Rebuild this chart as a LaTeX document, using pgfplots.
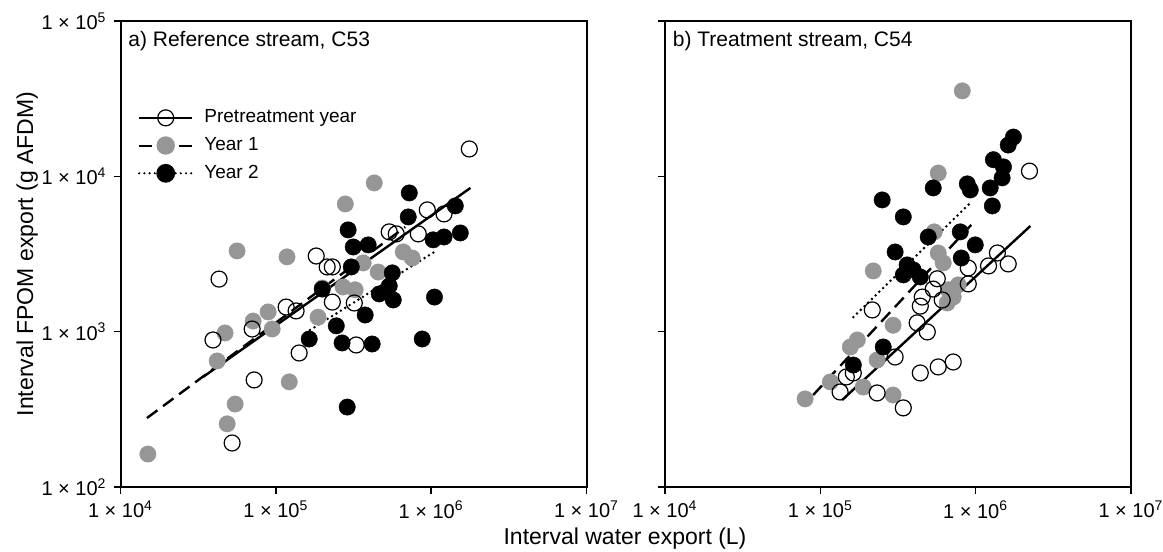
\documentclass[border=0pt]{standalone}
\usepackage{fontspec}
\setmainfont{Liberation Sans}
\usepackage{pgfplots}
\usepackage{pgfplotstable}
\pgfplotsset{compat=1.18}
\definecolor{ptgray}{RGB}{150,150,150}

% ---- Panel a: reference stream C53 ----
\pgfplotstableread{
x y
1760000 15000
43100 2180
39400 884
72500 489
52300 192
70400 1040
116500 1440
135000 1360
141300 729
182000 3070
214000 2610
231000 2610
231000 1550
320000 1530
329000 821
537000 4390
596000 4260
944000 6080
1210000 5730
826000 4260
}\lpre
\pgfplotstableread{
x y
15000 163
48600 255
54700 342
41900 648
47100 981
71400 1170
89200 1340
94700 1040
122000 475
187000 1240
56300 3310
118000 3030
280000 6640
430000 9070
271000 1940
324000 1860
365000 2770
456000 2420
661000 3260
755000 2980
199000 1910
}\lyone
\pgfplotstableread{
x y
723000 7820
712000 5480
1430000 6450
292000 4520
315000 3510
393000 3620
1030000 3900
1210000 4070
1540000 4320
306000 2610
199000 1880
562000 2390
537000 1970
463000 1750
570000 1600
376000 1280
245000 1090
164000 897
267000 846
417000 833
288000 327
876000 897
1050000 1670
}\lytwo

% ---- Panel b: treatment stream C54 ----
\pgfplotstableread{
x y
2220000 10800
1380000 3210
1210000 2650
1620000 2730
896000 2570
896000 2030
566000 2190
533000 1880
609000 1600
453000 1670
440000 1460
420000 1140
488000 996
216000 1380
303000 687
440000 542
574000 593
717000 638
232000 403
342000 323
134000 409
147000 511
163000 542
}\rpre
\pgfplotstableread{
x y
820000 35500
574000 10500
219000 2460
541000 4390
574000 3210
618000 2770
666000 1860
656000 1530
772000 2000
717000 1670
294000 1100
156000 797
173000 884
232000 657
116000 475
79800 369
189000 440
294000 391
}\ryone
\pgfplotstableread{
x y
1750000 17900
1620000 15900
1300000 12800
1510000 11500
1480000 9770
1240000 8420
923000 8170
883000 8940
533000 8420
1280000 6450
250000 7050
342000 5480
495000 4070
796000 4390
994000 3620
808000 2980
303000 3260
362000 2690
342000 2320
440000 2250
396000 2500
254000 797
163000 610
}\rytwo

\begin{document}
\begin{tikzpicture}
\useasboundingbox (0,0) rectangle (581.5pt,276pt);

\begin{axis}[xmode=log, ymode=log, scale only axis, width=233pt, height=233pt,
  xmin=1e4, xmax=1e7, ymin=1e2, ymax=1e5,
  xtick={1e4,1e5,1e6,1e7}, ytick={1e2,1e3,1e4,1e5},
  xticklabels={1 × 10\textsuperscript{4},1 × 10\textsuperscript{5},1 × 10\textsuperscript{6},1 × 10\textsuperscript{7}},
  yticklabels={1 × 10\textsuperscript{2},1 × 10\textsuperscript{3},1 × 10\textsuperscript{4},1 × 10\textsuperscript{5}},
  xminorticks=false, yminorticks=false,
  tick align=outside, xtick pos=bottom, ytick pos=left,
  major tick length=3.5pt,
  axis line style={line width=1pt},
  every tick/.style={black, line width=0.8pt},
  tick label style={font=\fontsize{10}{12}\selectfont},
  at={(60.25pt,32.5pt)}, anchor=south west,
  legend cell align=left,
  legend image code/.code={\draw[mark repeat=2,mark phase=2] plot coordinates {(0pt,0pt)(13.25pt,0pt)(26.5pt,0pt)};},
  legend style={draw=none, fill=none, inner sep=0pt, outer sep=0pt,
    at={(0.0376,0.818)}, anchor=north west,
    font=\fontsize{9.5}{11}\selectfont,
    row sep=1.8pt, column sep=3.5pt},
]
\addlegendimage{black, solid, line width=1pt, mark=o, mark size=4pt, mark options={solid, line width=0.6pt}}
\addlegendentry{Pretreatment year}
\addlegendimage{black, line width=1pt, dash pattern=on 6.5pt off 3.5pt, mark=*, mark size=4.1pt, mark options={solid, draw=ptgray, fill=ptgray}}
\addlegendentry{Year 1}
\addlegendimage{black, line width=1.2pt, line cap=round, dash pattern=on 0pt off 2.6pt, mark=*, mark size=4.1pt, mark options={solid, draw=black, fill=black}}
\addlegendentry{Year 2}

\addplot[only marks, mark=*, mark size=4.1pt, mark options={draw=ptgray, fill=ptgray, line width=0.2pt}, forget plot] table {\lyone};
\addplot[only marks, mark=*, mark size=4.1pt, mark options={draw=black, fill=black, line width=0.2pt}, forget plot] table {\lytwo};
\addplot[only marks, mark=o, mark size=4pt, mark options={black, line width=0.6pt}, forget plot] table {\lpre};
\addplot[black, line width=1.2pt, forget plot] coordinates {(34000,511) (1790000,8420)};
\addplot[black, line width=1.2pt, dash pattern=on 6.5pt off 3.5pt, forget plot] coordinates {(14800,278) (681000,4720)};
\addplot[black, line width=1.4pt, line cap=round, dash pattern=on 0pt off 2.6pt, forget plot] coordinates {(166000,1025) (1100000,3360)};
\node[anchor=base west, inner sep=0pt, font=\fontsize{10.5}{12}\selectfont] at (rel axis cs:0.016,0.946) {a) Reference stream, C53};
\end{axis}

\begin{axis}[xmode=log, ymode=log, scale only axis, width=233pt, height=233pt,
  xmin=1e4, xmax=1e7, ymin=1e2, ymax=1e5,
  xtick={1e4,1e5,1e6,1e7}, ytick={1e2,1e3,1e4,1e5},
  xticklabels={1 × 10\textsuperscript{4},1 × 10\textsuperscript{5},1 × 10\textsuperscript{6},1 × 10\textsuperscript{7}},
  yticklabels={},
  xminorticks=false, yminorticks=false,
  tick align=outside, xtick pos=bottom, ytick pos=left,
  major tick length=3.5pt,
  axis line style={line width=1pt},
  every tick/.style={black, line width=0.8pt},
  tick label style={font=\fontsize{10}{12}\selectfont},
  at={(332.5pt,32.5pt)}, anchor=south west,
]
\addplot[only marks, mark=*, mark size=4.1pt, mark options={draw=ptgray, fill=ptgray, line width=0.2pt}, forget plot] table {\ryone};
\addplot[only marks, mark=*, mark size=4.1pt, mark options={draw=black, fill=black, line width=0.2pt}, forget plot] table {\rytwo};
\addplot[only marks, mark=o, mark size=4pt, mark options={black, line width=0.6pt}, forget plot] table {\rpre};
\addplot[black, line width=1.2pt, forget plot] coordinates {(138000,363) (2250000,4790)};
\addplot[black, line width=1.2pt, dash pattern=on 6.5pt off 3.5pt, forget plot] coordinates {(89900,391) (937000,4870)};
\addplot[black, line width=1.4pt, line cap=round, dash pattern=on 0pt off 2.6pt, forget plot] coordinates {(163000,1240) (951000,6940)};
\node[anchor=base west, inner sep=0pt, font=\fontsize{10.5}{12}\selectfont] at (rel axis cs:0.016,0.946) {b) Treatment stream, C54};
\end{axis}

\node[rotate=90, anchor=base, inner sep=0pt, font=\fontsize{11.5}{14}\selectfont] at (16.5pt,149pt) {Interval FPOM export (g AFDM)};
\node[anchor=base, inner sep=0pt, font=\fontsize{11.5}{14}\selectfont] at (312.5pt,3.5pt) {Interval water export (L)};
\end{tikzpicture}
\end{document}
